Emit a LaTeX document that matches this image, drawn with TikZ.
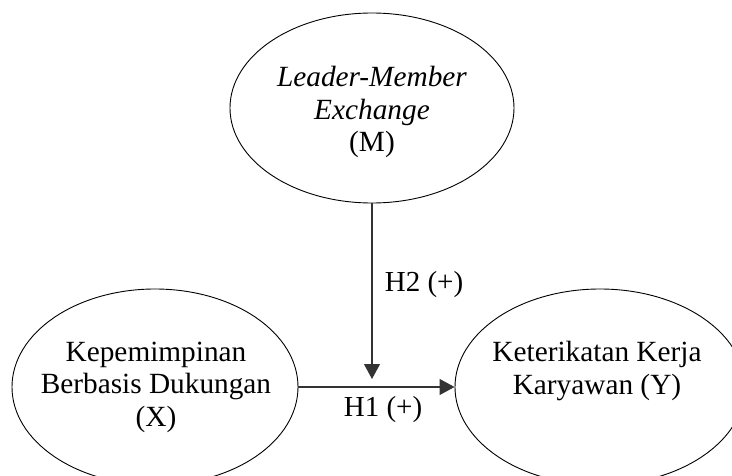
\documentclass[tikz,border=0pt]{standalone}
\usepackage{fontspec}
\setmainfont{Liberation Serif}
\usetikzlibrary{arrows.meta,shapes.geometric}
\begin{document}
\begin{tikzpicture}[x=1pt,y=-1pt,
  oval/.style={draw=black,line width=0.9pt,ellipse,inner sep=0pt},
  txt/.style={align=center,font=\fontsize{29.3}{32.5}\selectfont,inner sep=0pt},
  lbl/.style={font=\fontsize{29}{32}\selectfont,inner sep=0pt},
  arr/.style={draw=black!80,line width=1.1pt,-{Triangle[length=15pt,width=16pt]}}]
\useasboundingbox (0,0) rectangle (732,476);
\node[oval,minimum width=284pt,minimum height=190pt] (T) at (372,108) {};
\node[oval,minimum width=286pt,minimum height=196pt] (L) at (155,387) {};
\node[oval,minimum width=290pt,minimum height=196pt] (R) at (600,387) {};
\node[txt] (Tt) at (372,112) {\textit{Leader-Member}\\\textit{Exchange}\\(M)};
\node[txt] (Lt) at (156,387) {Kepemimpinan\\Berbasis Dukungan\\(X)};
\node[txt] (Rt) at (597,371) {Keterikatan Kerja\\Karyawan (Y)};
\coordinate (m) at (372,379);
\draw[arr] (L) -- (R);
\draw[arr] (T.south) -- (m);
\node[lbl] (h2) at (424,285) {H2 (+)};
\node[lbl] (h1) at (383,410) {H1 (+)};
\end{tikzpicture}
\end{document}
